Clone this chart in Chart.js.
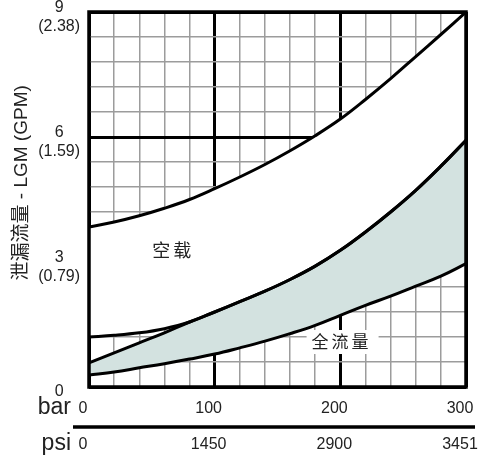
<!DOCTYPE html>
<html><head><meta charset="utf-8">
<script src="https://cdn.jsdelivr.net/npm/chart.js@4.4.1/dist/chart.umd.min.js"></script>
<style>html,body{margin:0;padding:0;background:#fff}#wrap{width:478px;height:457px;position:relative}</style>
</head><body><div id="wrap"><canvas id="c" width="478" height="457"></canvas></div>
<script>
// ---- data ----
const pressureBar    = [0, 20, 40, 60, 80, 100, 120, 140, 160, 180, 200, 220, 240, 260, 280, 300];
const noLoadUpper    = [3.84, 3.96, 4.11, 4.29, 4.50, 4.76, 5.04, 5.34, 5.67, 6.03, 6.43, 6.90, 7.40, 7.93, 8.46, 9.0];
const noLoadLower    = [1.20, 1.24, 1.30, 1.40, 1.56, 1.80, 2.05, 2.30, 2.58, 2.90, 3.28, 3.72, 4.20, 4.72, 5.30, 5.92];
const fullFlowUpper  = [0.58, 0.82, 1.06, 1.30, 1.56, 1.80, 2.05, 2.30, 2.58, 2.90, 3.28, 3.72, 4.20, 4.72, 5.30, 5.92];
const fullFlowLower  = [0.29, 0.36, 0.46, 0.56, 0.67, 0.79, 0.94, 1.10, 1.28, 1.48, 1.72, 1.96, 2.18, 2.42, 2.66, 2.96];
const yTickValues    = [0, 3, 6, 9];
const yTickLabels    = [['0'], ['3', '(0.79)'], ['6', '(1.59)'], ['9', '(2.38)']];
const barTickValues  = [0, 100, 200, 300];
const barTickLabels  = ['0', '100', '200', '300'];
const psiTickLabels  = ['0', '1450', '2900', '3451'];
const yTitle         = '泄漏流量 - LGM (GPM)';
const noLoadLabel    = '空载';
const fullFlowLabel  = '全流量';
const unitBar = 'bar', unitPsi = 'psi';

const FONT = "'Liberation Sans', Arial, 'Noto Sans CJK SC', sans-serif";
const CJK = "'Noto Sans CJK SC', 'Liberation Sans', sans-serif";
const TEXT = '#222';
const GRID_GRAY = '#9c9c9c';
const FILL_TEAL = '#d3e2e0';

const pts = arr => pressureBar.map((x, i) => ({x, y: arr[i]}));
const isMajorX = v => Math.abs(v % 100) < 1e-6;
const isMajorY = v => Math.abs(v / 3 - Math.round(v / 3)) < 1e-6;

const lineDs = (data, extra) => Object.assign({
  data: pts(data), borderColor: '#000', borderWidth: 3, pointRadius: 0,
  tension: 0.4, fill: false
}, extra || {});

const decor = {
  id: 'decor',
  afterDatasetsDraw(chart) {
    const {ctx, chartArea: a} = chart;
    ctx.save();
    ctx.strokeStyle = '#000';
    ctx.lineWidth = 3.5;
    ctx.strokeRect(a.left, a.top, a.right - a.left, a.bottom - a.top);
    ctx.restore();
  },
  afterDraw(chart) {
    const {ctx, chartArea: a, scales} = chart;
    const xs = scales.x, ys = scales.y;
    ctx.save();
    // y title
    ctx.fillStyle = TEXT;
    ctx.font = '19px ' + FONT;
    ctx.textAlign = 'center';
    ctx.textBaseline = 'middle';
    ctx.translate(22, ys.getPixelForValue(4.9));
    ctx.rotate(-Math.PI / 2);
    ctx.fillText(yTitle, 0, 0);
    ctx.restore();

    ctx.save();
    // unit labels + separator
    const xTickY = xs.top + 21;
    const psiY = scales.x2.top + 27;
    ctx.fillStyle = TEXT;
    ctx.font = '23px ' + FONT;
    ctx.textAlign = 'right';
    ctx.textBaseline = 'middle';
    ctx.fillText(unitBar, a.left - 18, xTickY);
    ctx.fillText(unitPsi, a.left - 18, psiY);
    ctx.strokeStyle = '#000';
    ctx.lineWidth = 3.5;
    ctx.beginPath();
    ctx.moveTo(a.left - 16, scales.x2.top + 10);
    ctx.lineTo(a.right + 9, scales.x2.top + 10);
    ctx.stroke();

    // region labels
    ctx.font = '18px ' + CJK;
    ctx.letterSpacing = '3px';
    ctx.textAlign = 'center';
    ctx.fillText(noLoadLabel, xs.getPixelForValue(67), ys.getPixelForValue(3.29));
    ctx.font = '17px ' + CJK;
    const fx = xs.getPixelForValue(201), fy = ys.getPixelForValue(1.08);
    const w = ctx.measureText(fullFlowLabel).width;
    ctx.fillStyle = '#fff';
    ctx.fillRect(fx - w / 2 - 5, fy - 12, w + 12, 24);
    ctx.fillStyle = TEXT;
    ctx.fillText(fullFlowLabel, fx, fy);
    ctx.restore();
  }
};

new Chart(document.getElementById('c'), {
  type: 'line',
  data: {
    datasets: [
      lineDs(noLoadUpper, {label: 'noLoadUpper', fill: {target: '+1'}, backgroundColor: '#ffffff'}),
      lineDs(noLoadLower, {label: 'noLoadLower'}),
      lineDs(fullFlowUpper, {label: 'fullFlowUpper', fill: {target: '+1'}, backgroundColor: FILL_TEAL}),
      lineDs(fullFlowLower, {label: 'fullFlowLower'})
    ]
  },
  options: {
    responsive: false,
    animation: false,
    devicePixelRatio: 1,
    layout: {padding: {top: 12, right: 12, left: 0, bottom: 0}},
    plugins: {
      legend: {display: false},
      tooltip: {enabled: false},
      filler: {drawTime: 'beforeDatasetsDraw'}
    },
    scales: {
      x: {
        type: 'linear', position: 'bottom', weight: 0, min: 0, max: 300,
        ticks: {
          stepSize: 20, autoSkip: false, maxRotation: 0, padding: 12, labelOffset: -6,
          color: TEXT, font: {family: FONT, size: 16},
          callback: v => { const i = barTickValues.indexOf(v); return i >= 0 ? barTickLabels[i] : ''; }
        },
        grid: {
          drawTicks: false,
          color: c => (c.tick && isMajorX(c.tick.value)) ? '#000' : GRID_GRAY,
          lineWidth: c => (c.tick && isMajorX(c.tick.value)) ? 3 : 1.5
        },
        border: {display: false},
        afterFit: s => { s.height = 30; s.paddingLeft = 0; s.paddingRight = 0; }
      },
      x2: {
        type: 'linear', position: 'bottom', weight: 1, min: 0, max: 300,
        ticks: {
          stepSize: 100, autoSkip: false, maxRotation: 0, padding: 18, labelOffset: -6,
          color: TEXT, font: {family: FONT, size: 16},
          callback: v => { const i = barTickValues.indexOf(v); return i >= 0 ? psiTickLabels[i] : ''; }
        },
        grid: {display: false, drawTicks: false},
        border: {display: false},
        afterFit: s => { s.height = 40; s.paddingLeft = 0; s.paddingRight = 0; }
      },
      y: {
        type: 'linear', position: 'left', min: 0, max: 9,
        ticks: {
          stepSize: 0.6, autoSkip: false, padding: 9, crossAlign: 'center', labelOffset: 5,
          color: TEXT, font: {family: FONT, size: 16},
          callback: v => { const i = yTickValues.findIndex(k => Math.abs(k - v) < 1e-6); return i >= 0 ? yTickLabels[i] : ''; }
        },
        grid: {
          drawTicks: false,
          color: c => (c.tick && isMajorY(c.tick.value)) ? '#000' : GRID_GRAY,
          lineWidth: c => (c.tick && isMajorY(c.tick.value)) ? 3 : 1.5
        },
        border: {display: false},
        afterFit: s => { s.width = 89; s.paddingTop = 0; s.paddingBottom = 0; }
      }
    }
  },
  plugins: [decor]
});
</script>
</body></html>
